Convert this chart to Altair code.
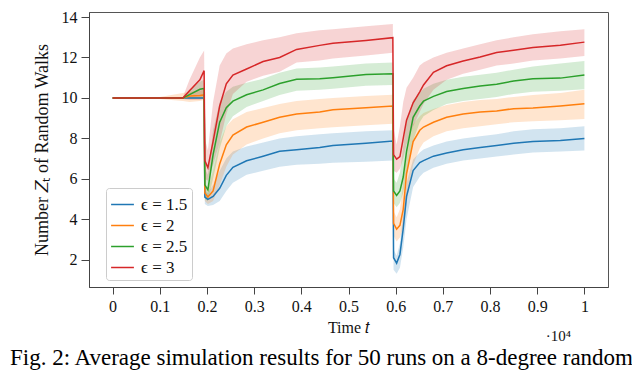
import altair as alt
import pandas as pd

# ---- data ----
T = [0, 1000, 1490, 1630, 1850, 1940, 1955, 2020, 2130, 2270, 2410, 2550, 2840, 3190,
     3540, 3900, 4390, 4670, 5370, 5940, 5955, 6020, 6090, 6160, 6230, 6370, 6510, 6590,
     6800, 7080, 7430, 7790, 8140, 8500, 8910, 9490, 10000]

series_names = ["ϵ = 1.5", "ϵ = 2", "ϵ = 2.5", "ϵ = 3"]
series_colors = ["#1f77b4", "#ff7f0e", "#2ca02c", "#d62728"]

mean_15 = [10, 10, 10, 10, 10, 10, 5.1, 4.98, 5.13, 5.53, 6.17, 6.57, 6.89, 7.12, 7.36, 7.44, 7.55,
           7.65, 7.76, 7.87, 2.1, 1.83, 2.26, 3.54, 5.13, 6.41, 6.8, 6.9, 7.12, 7.28, 7.44, 7.55,
           7.65, 7.76, 7.84, 7.89, 8.0]
upper_15 = [10, 10, 10, 10.02, 10.03, 10.03, 5.4, 5.3, 5.7, 6.4, 7.0, 7.35, 7.6, 7.8, 8.0, 8.1, 8.2,
            8.25, 8.35, 8.4, 2.5, 2.2, 2.8, 4.3, 5.8, 6.95, 7.3, 7.45, 7.65, 7.85, 8.0, 8.1, 8.2,
            8.35, 8.45, 8.5, 8.6]
lower_15 = [10, 10, 10, 9.98, 9.97, 9.97, 4.75, 4.65, 4.7, 4.9, 5.4, 5.8, 6.2, 6.4, 6.6, 6.7, 6.75,
            6.8, 6.85, 6.9, 1.5, 1.3, 1.6, 2.6, 4.0, 5.6, 6.1, 6.3, 6.55, 6.75, 6.9, 7.0, 7.1, 7.2,
            7.3, 7.35, 7.4]

mean_2 = [10, 10, 10, 10.1, 10.12, 10.15, 5.3, 5.1, 5.4, 6.73, 7.68, 8.16, 8.56, 8.8, 9.04, 9.2,
          9.3, 9.41, 9.52, 9.6, 3.8, 3.51, 3.7, 4.49, 6.25, 7.84, 8.4, 8.56, 8.8, 9.04, 9.2, 9.31,
          9.36, 9.47, 9.5, 9.6, 9.71]
upper_2 = [10, 10.05, 10.25, 10.3, 10.35, 10.4, 5.7, 5.5, 6.4, 7.8, 8.6, 8.95, 9.3, 9.5, 9.7, 9.85,
           9.95, 10.0, 10.1, 10.16, 4.4, 4.1, 4.5, 5.8, 7.4, 8.7, 9.1, 9.25, 9.45, 9.65, 9.8, 9.9,
           9.95, 10.05, 10.15, 10.25, 10.4]
lower_2 = [10, 9.95, 9.85, 9.8, 9.85, 9.9, 4.9, 4.75, 4.9, 5.7, 6.6, 7.2, 7.7, 8.0, 8.25, 8.4, 8.5,
           8.55, 8.65, 8.72, 3.2, 2.9, 3.1, 3.6, 4.8, 6.7, 7.5, 7.8, 8.1, 8.35, 8.5, 8.6, 8.7, 8.8,
           8.85, 8.9, 8.96]

mean_25 = [10, 10, 10, 10.16, 10.43, 10.47, 5.7, 5.45, 7.2, 8.8, 9.52, 9.84, 10.16, 10.4, 10.71,
           10.92, 10.95, 11.0, 11.16, 11.19, 5.4, 5.18, 5.4, 6.09, 7.36, 9.04, 9.6, 9.84, 10.08,
           10.32, 10.47, 10.59, 10.68, 10.84, 10.95, 10.98, 11.14]
upper_25 = [10, 10, 10.02, 10.4, 10.8, 10.9, 6.5, 6.2, 8.4, 9.8, 10.3, 10.55, 10.75, 10.95, 11.25,
            11.45, 11.5, 11.55, 11.7, 11.75, 6.0, 5.8, 6.3, 7.6, 8.9, 9.9, 10.25, 10.45, 10.7,
            10.9, 11.05, 11.15, 11.25, 11.4, 11.55, 11.7, 11.83]
lower_25 = [10, 10, 9.98, 9.95, 9.95, 9.97, 5.0, 4.9, 6.0, 7.5, 8.6, 9.1, 9.55, 9.85, 10.15, 10.35,
            10.4, 10.45, 10.6, 10.64, 4.8, 4.6, 4.8, 5.3, 6.2, 7.9, 8.8, 9.1, 9.4, 9.7, 9.85, 9.95,
            10.05, 10.2, 10.3, 10.35, 10.43]

mean_3 = [10, 10, 10, 10.35, 10.9, 11.35, 6.9, 6.55, 7.85, 9.6, 10.7, 11.13, 11.43, 11.8, 12.0,
          12.4, 12.6, 12.7, 12.84, 12.98, 7.2, 6.97, 7.1, 8.0, 8.9, 9.76, 10.3, 10.64, 11.27,
          11.59, 11.83, 12.02, 12.25, 12.36, 12.5, 12.6, 12.76]
upper_3 = [10, 10, 10.05, 10.9, 12.0, 12.35, 8.0, 7.4, 9.8, 11.6, 12.2, 12.45, 12.65, 12.85, 13.0,
           13.2, 13.35, 13.4, 13.55, 13.66, 8.5, 7.7, 8.6, 9.8, 10.5, 11.0, 11.6, 11.75, 12.0,
           12.23, 12.45, 12.65, 12.85, 13.0, 13.15, 13.3, 13.4]
lower_3 = [10, 10, 9.95, 9.9, 9.9, 9.95, 6.0, 5.9, 6.7, 7.8, 9.2, 10.2, 10.8, 11.1, 11.3, 11.75,
           11.85, 11.95, 12.1, 12.23, 6.4, 6.3, 6.5, 7.0, 7.7, 8.6, 9.3, 9.7, 10.4, 10.9, 11.2,
           11.4, 11.6, 11.7, 11.85, 11.95, 12.07]

x_ticks = [0, 1000, 2000, 3000, 4000, 5000, 6000, 7000, 8000, 9000, 10000]
y_ticks = [2, 4, 6, 8, 10, 12, 14]
caption = "Fig. 2: Average simulation results for 50 runs on a 8-degree random"

# ---- build table ----
rows = []
for name, m, lo, hi in zip(series_names,
                           [mean_15, mean_2, mean_25, mean_3],
                           [lower_15, lower_2, lower_25, lower_3],
                           [upper_15, upper_2, upper_25, upper_3]):
    for t, a, b, c in zip(T, m, lo, hi):
        rows.append({"t": t, "mean": a, "lo": b, "hi": c, "series": name})
df = pd.DataFrame(rows)

FONT = "Liberation Serif"
W, H = 519, 275

xscale = alt.Scale(domain=[-500, 10500], nice=False, zero=False)
yscale = alt.Scale(domain=[0.65, 14.25], nice=False, zero=False)
cscale = alt.Scale(domain=series_names, range=series_colors)

xaxis = alt.Axis(values=x_ticks, labelExpr="format(datum.value / 10000, '~g')",
                 title="Time 𝑡", grid=False, tickSize=7, labelPadding=4, titlePadding=5,
                 domainColor="#444", tickColor="#444", labelColor="#111", titleColor="#111",
                 labelFont=FONT, titleFont=FONT, labelFontSize=16, titleFontSize=16,
                 titleFontWeight="normal")
yaxis = alt.Axis(values=y_ticks, title="Number 𝑍ₜ of Random Walks", grid=False, tickSize=8,
                 labelPadding=4, titlePadding=10,
                 domainColor="#444", tickColor="#444", labelColor="#111", titleColor="#111",
                 labelFont=FONT, titleFont=FONT, labelFontSize=16, titleFontSize=18,
                 titleFontWeight="normal")

legend = alt.Legend(orient="none", legendX=17, legendY=176, title=None,
                    symbolType="stroke", symbolSize=520, symbolStrokeWidth=1.5,
                    symbolOpacity=1, labelFont=FONT, labelFontSize=17, labelColor="#111",
                    fillColor="white", strokeColor="#ccc", cornerRadius=3, padding=4,
                    rowPadding=-2.5, labelOffset=6)

base = alt.Chart(df)

band = base.mark_area(opacity=0.2, interpolate="linear").encode(
    x=alt.X("t:Q", scale=xscale, axis=xaxis),
    y=alt.Y("lo:Q", scale=yscale, axis=yaxis),
    y2="hi:Q",
    color=alt.Color("series:N", scale=cscale, legend=legend),
)

line = base.mark_line(strokeWidth=1.5).encode(
    x=alt.X("t:Q", scale=xscale),
    y=alt.Y("mean:Q", scale=yscale),
    color=alt.Color("series:N", scale=cscale, legend=legend),
)

offset_df = pd.DataFrame({"t": [9450], "label": ["·10⁴"]})
offset_text = alt.Chart(offset_df).mark_text(font=FONT, fontSize=15, align="center",
                                             baseline="middle", color="#111").encode(
    x=alt.X("t:Q", scale=xscale),
    y=alt.value(H + 49),
    text="label:N",
)

chart = alt.layer(band, line, offset_text).properties(
    width=W, height=H,
    autosize=alt.AutoSizeParams(type="none"),
    padding={"left": 81, "top": 4, "right": 24, "bottom": 84},
    title=alt.TitleParams(caption, orient="bottom", anchor="start", frame="group",
                          dx=-79, offset=3, fontSize=23, font=FONT,
                          fontWeight="normal", color="black"),
).configure_view(stroke="#555", strokeWidth=1)

chart.save("out.html", embed_options={"renderer": "svg", "actions": False})
